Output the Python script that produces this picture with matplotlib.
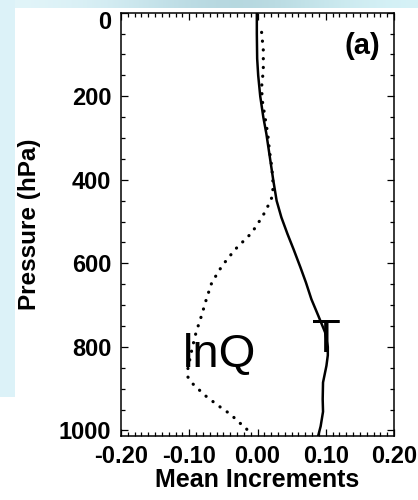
import numpy as np
import matplotlib
matplotlib.use("Agg")
import matplotlib.pyplot as plt
from matplotlib.patches import Rectangle
from matplotlib.ticker import MultipleLocator, FormatStrFormatter
from matplotlib.transforms import ScaledTranslation

plt.rcParams['font.family'] = ['Liberation Sans', 'DejaVu Sans']
plt.rcParams['axes.unicode_minus'] = False

# Mean temperature increment profile (solid line)
t_pressure = [0, 50, 110, 150, 200, 250, 290, 345, 400, 450, 490, 530, 567,
              610, 646, 686, 725, 765, 800, 820, 845, 885, 925, 955, 990, 1012]
t_incr = [-0.001, -0.001, -0.0005, 0.001, 0.004, 0.0085, 0.013, 0.018, 0.023,
          0.028, 0.035, 0.044, 0.053, 0.063, 0.071, 0.079, 0.089, 0.099,
          0.103, 0.103, 0.101, 0.096, 0.0955, 0.096, 0.0925, 0.089]

# Mean lnQ increment profile (dotted line)
q_pressure = [47, 90, 138, 178, 210, 250, 290, 330, 370, 415, 432, 448, 487,
              527, 567, 606, 646, 686, 725, 765, 805, 852, 872, 888, 902, 916,
              940, 963, 980, 991, 1007]
q_incr = [0.006, 0.0085, 0.0085, 0.006, 0.007, 0.011, 0.015, 0.0175, 0.021,
          0.023, 0.022, 0.020, 0.0076, -0.0085, -0.033, -0.052, -0.067, -0.075,
          -0.082, -0.090, -0.096, -0.102, -0.102, -0.095, -0.086, -0.077,
          -0.058, -0.038, -0.028, -0.018, -0.012]

x_ticks = [-0.20, -0.10, 0.00, 0.10, 0.20]
y_ticks = [0, 200, 400, 600, 800, 1000]

fig = plt.figure(figsize=(4.18, 5.0), dpi=100)
fig.patch.set_facecolor('white')

# slide background behind the chart (pixel coords)
bg = fig.add_axes([0, 0, 1, 1], zorder=-10)
bg.axis('off')
bg.add_patch(Rectangle((0, 0), 15, 397, color='#dcf2f8', lw=0))
grad = np.array([[226, 245, 249], [214, 238, 244], [190, 222, 230],
                 [178, 212, 220], [196, 228, 234], [214, 242, 247]]) / 255.0
bg.imshow(grad[np.newaxis, :, :], extent=(0, 418, 8, 0), aspect='auto',
          interpolation='bicubic')
bg.set_xlim(0, 418)
bg.set_ylim(500, 0)

ax = fig.add_axes([0.2895, 0.129, 0.6531, 0.8456])
ax.plot(t_incr, t_pressure, color='black', lw=1.8)
ax.plot(q_incr, q_pressure, color='black', lw=2.3,
        linestyle=(0, (0.05, 2.7)), dash_capstyle='round')

ax.set_xlim(-0.2, 0.2)
ax.set_ylim(1012, 0)
ax.set_xticks(x_ticks)
ax.set_yticks(y_ticks)
ax.xaxis.set_minor_locator(MultipleLocator(0.01))
ax.yaxis.set_minor_locator(MultipleLocator(50))
ax.xaxis.set_major_formatter(FormatStrFormatter('%.2f'))

ax.tick_params(which='both', direction='in', top=True, right=True,
               width=0.9, labelsize=17)
ax.tick_params(which='major', length=5)
ax.tick_params(which='minor', length=3)
ax.tick_params(axis='x', pad=7)
ax.tick_params(axis='y', pad=7)
for lab in ax.get_xticklabels() + ax.get_yticklabels():
    lab.set_fontweight('bold')
for sp in ax.spines.values():
    sp.set_linewidth(1.1)

# first pressure label sits a bit lower in the original
first = ax.get_yticklabels()[0]
first.set_transform(first.get_transform() + ScaledTranslation(0, -5 / 72, fig.dpi_scale_trans))

ax.set_xlabel('Mean Increments', fontsize=18, fontweight='bold', labelpad=0)
ax.set_ylabel('Pressure (hPa)', fontsize=17.5, fontweight='bold', labelpad=13)

ax.text(-0.109, 849, 'lnQ', fontsize=34, ha='left', va='baseline')
ax.text(0.080, 813, 'T', fontsize=34, ha='left', va='baseline')
ax.text(0.18, 80, '(a)', fontsize=21, fontweight='bold', ha='right', va='center')

fig.savefig('out.png', dpi=100)
